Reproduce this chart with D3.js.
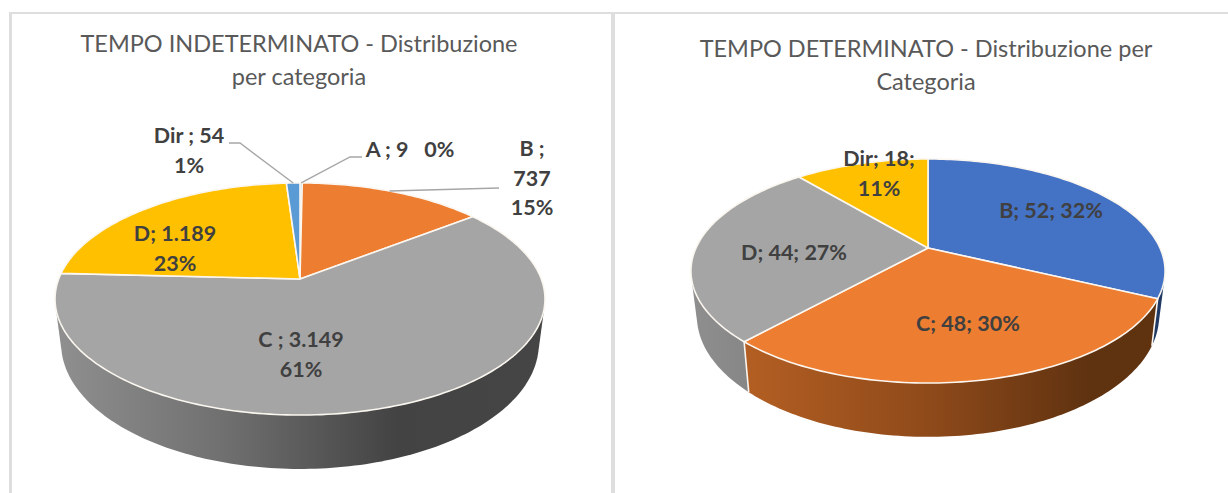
<!DOCTYPE html>
<html>
<head>
<meta charset="utf-8">
<script src="https://cdn.jsdelivr.net/npm/d3@7"></script>
<style>
  html, body { margin: 0; padding: 0; background: #fff; }
  svg { display: block; }
  text { font-family: Lato, "Open Sans", sans-serif; }
  .title { font-size: 23.5px; fill: #595959; text-anchor: middle; }
  .label { font-size: 21.5px; font-weight: 700; fill: #404040; text-anchor: middle; }
</style>
</head>
<body>
<svg id="viz" width="1228" height="493"></svg>
<script>
// values
var indet_categories = ["A", "B", "C", "D", "Dir"];
var indet_values = [9, 737, 3149, 1189, 54];
var indet_colors = ["#5b9bd5", "#ed7d31", "#a5a5a5", "#ffc000", "#5b9bd5"];
var indet_title = ["TEMPO INDETERMINATO - Distribuzione", "per categoria"];
var indet_labels = [["A ; 9   0%"], ["B ;", "737", "15%"], ["C ; 3.149", "61%"], ["D; 1.189", "23%"], ["Dir ; 54", "1%"]];

var det_categories = ["B", "C", "D", "Dir"];
var det_values = [52, 48, 44, 18];
var det_colors = ["#4472c4", "#ed7d31", "#a5a5a5", "#ffc000"];
var det_title = ["TEMPO DETERMINATO - Distribuzione per", "Categoria"];
var det_labels = [["B; 52; 32%"], ["C; 48; 30%"], ["D; 44; 27%"], ["Dir; 18;", "11%"]];

var svg = d3.select("#viz");
var defs = svg.append("defs");

// panel borders
var frame_color = "#dedede";
svg.append("rect").attr("x", 9).attr("y", 12).attr("width", 1219).attr("height", 2).attr("fill", frame_color);
svg.append("rect").attr("x", 9).attr("y", 12).attr("width", 3).attr("height", 481).attr("fill", frame_color);
svg.append("rect").attr("x", 611).attr("y", 12).attr("width", 4).attr("height", 481).attr("fill", frame_color);

function Pie3D(cfg) {
  // tilted disc: the near edge is drawn bigger, so the apex sits above the ellipse centre
  function project(angle, base) {
    var u = Math.sin(angle), v = -Math.cos(angle);
    var w = 1 - cfg.k * v;
    if (base) {
      return [cfg.cx + cfg.R * 0.975 * u / w, cfg.cy + cfg.depth + cfg.S * 1.08 * v / w];
    }
    return [cfg.cx + cfg.R * u / w, cfg.cy + cfg.S * v / w];
  }
  function sampleArc(d, base) {
    var n = Math.max(2, Math.ceil((d.endAngle - d.startAngle) / 0.02));
    return d3.range(n + 1).map(function(i) {
      return project(d.startAngle + (d.endAngle - d.startAngle) * i / n, base);
    });
  }

  var slices = d3.pie().sort(null)(cfg.values);
  var line = d3.line();
  var g = svg.append("g");

  // walls, far slices first, the faces cover whatever the hull overshoots
  var walls = slices.slice().sort(function(a, b) {
    return d3.ascending(-Math.cos((a.startAngle + a.endAngle) / 2), -Math.cos((b.startAngle + b.endAngle) / 2));
  });
  walls.forEach(function(d) {
    var id = cfg.id + "-wall-" + d.index;
    var grad = defs.append("linearGradient").attr("id", id)
        .attr("gradientUnits", "userSpaceOnUse")
        .attr("x1", cfg.cx - cfg.R).attr("x2", cfg.cx + cfg.R).attr("y1", 0).attr("y2", 0);
    cfg.wallStops[d.index].forEach(function(s) {
      grad.append("stop").attr("offset", s[0]).attr("stop-color", s[1]);
    });
    var hull = d3.polygonHull(sampleArc(d, false).concat(sampleArc(d, true)));
    g.append("path").attr("d", line(hull) + "Z").attr("fill", "url(#" + id + ")");
  });

  slices.forEach(function(d) {
    var pts = sampleArc(d, false);
    pts.push([cfg.cx, cfg.cy]);
    g.append("path")
        .attr("d", line(pts) + "Z")
        .attr("fill", cfg.colors[d.index])
        .attr("stroke", "#fbf7f0")
        .attr("stroke-width", 1.6)
        .attr("stroke-linejoin", "round");
  });

  // wall seam where two visible slices meet
  slices.forEach(function(d) {
    var a = project(d.endAngle, false), b = project(d.endAngle, true);
    if (-Math.cos(d.endAngle) > 0.3 && -Math.cos(d.endAngle) < 0.95) {
      g.append("line").attr("x1", a[0]).attr("y1", a[1]).attr("x2", b[0]).attr("y2", b[1])
          .attr("stroke", "#fbf7f0").attr("stroke-width", 1.6);
    }
  });

  // leader lines run from the slice rim to the label
  (cfg.leaders || []).forEach(function(l) {
    var d = slices[l.slice];
    var tip = project(d.startAngle + (d.endAngle - d.startAngle) * l.at, false);
    g.append("path")
        .attr("d", line(l.elbows.concat([tip])))
        .attr("fill", "none").attr("stroke", "#a6a6a6").attr("stroke-width", 1.4);
  });

  var title = g.append("text").attr("class", "title");
  cfg.title.forEach(function(t, i) {
    title.append("tspan").attr("x", cfg.titleX).attr("y", cfg.titleY + i * 33).text(t);
  });

  cfg.labels.forEach(function(lines, i) {
    var pos = cfg.labelPos[i];
    var text = g.append("text").attr("class", "label");
    lines.forEach(function(t, j) {
      text.append("tspan").attr("x", pos[0]).attr("y", pos[1] + j * 29.5).style("white-space", "pre").text(t);
    });
  });
}

var gray_wall = [[0, "#8f8f8f"], [0.35, "#6f6f6f"], [0.7, "#434343"], [1, "#454545"]];

Pie3D({
  id: "indet", values: indet_values, colors: indet_colors,
  title: indet_title, titleX: 299, titleY: 52,
  labels: indet_labels,
  labelPos: [[410, 157], [532, 156], [301, 347], [175, 241], [189, 143]],
  cx: 300, cy: 279, R: 241.3, S: 112.6, k: 0.1724, depth: 43,
  wallStops: [gray_wall, gray_wall, gray_wall, gray_wall, gray_wall],
  leaders: [
    { slice: 0, at: 0.5, elbows: [[362, 157], [350, 157]] },
    { slice: 1, at: 0.48, elbows: [[499, 188]] },
    { slice: 4, at: 0.5, elbows: [[229, 143], [240, 143]] }
  ]
});

Pie3D({
  id: "det", values: det_values, colors: det_colors,
  title: det_title, titleX: 926, titleY: 57,
  labels: det_labels,
  labelPos: [[1051, 218], [968, 331], [794, 260], [879, 166]],
  cx: 928, cy: 248, R: 232, S: 107.3, k: 0.2054, depth: 43,
  wallStops: [
    [[0, "#1f3864"], [1, "#1f3864"]],
    [[0, "#bd6425"], [0.5, "#8f4a1a"], [0.85, "#5f3210"], [1, "#5f3210"]],
    [[0, "#8e8e8e"], [0.12, "#868686"], [1, "#666666"]],
    [[0, "#7f6000"], [1, "#7f6000"]]
  ]
});
</script>
</body>
</html>
